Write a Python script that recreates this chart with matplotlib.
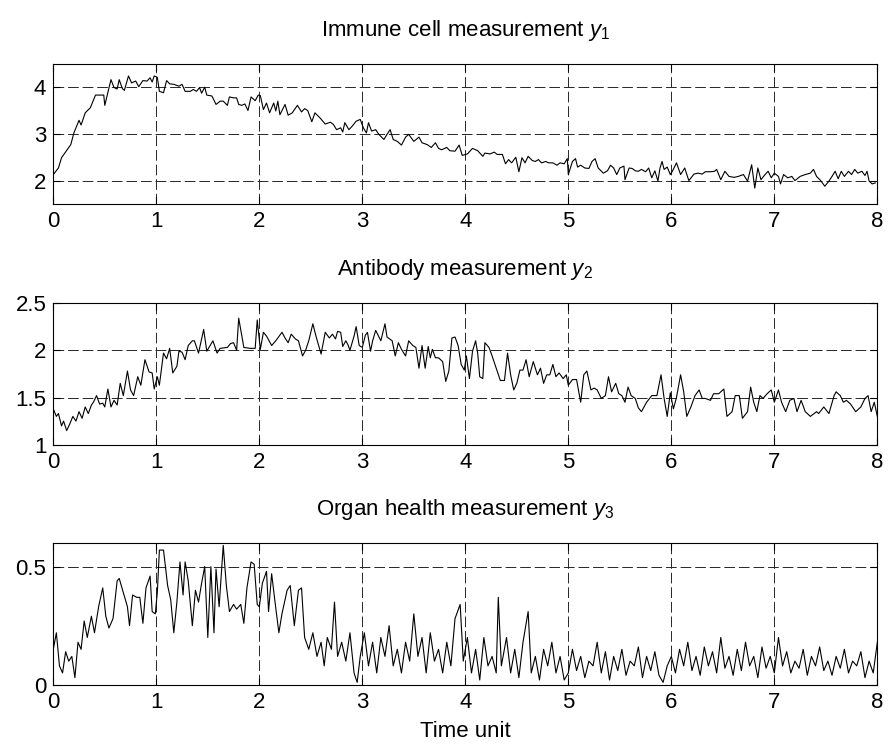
import matplotlib
matplotlib.use('Agg')
import matplotlib.pyplot as plt

t1 = [0.00, 0.05, 0.08, 0.17, 0.20, 0.25, 0.27, 0.31, 0.36, 0.41, 0.49, 0.50, 0.56, 0.59, 0.62, 0.64,
      0.67, 0.69, 0.73, 0.76, 0.80, 0.83, 0.87, 0.91, 0.94, 0.96, 0.98, 1.01, 1.03, 1.07, 1.10, 1.13,
      1.17, 1.22, 1.25, 1.28, 1.33, 1.36, 1.39, 1.42, 1.44, 1.47, 1.49, 1.54, 1.58, 1.62, 1.65, 1.69,
      1.71, 1.75, 1.78, 1.80, 1.83, 1.86, 1.89, 1.92, 1.96, 1.99, 2.01, 2.04, 2.07, 2.10, 2.14, 2.16,
      2.18, 2.20, 2.25, 2.28, 2.32, 2.37, 2.41, 2.44, 2.47, 2.51, 2.54, 2.59, 2.64, 2.69, 2.72, 2.75,
      2.79, 2.81, 2.83, 2.87, 2.90, 2.94, 2.98, 3.01, 3.04, 3.06, 3.09, 3.13, 3.16, 3.21, 3.24, 3.27,
      3.30, 3.34, 3.38, 3.42, 3.45, 3.50, 3.55, 3.58, 3.63, 3.67, 3.71, 3.74, 3.77, 3.82, 3.85, 3.90,
      3.94, 3.97, 4.02, 4.07, 4.12, 4.17, 4.19, 4.24, 4.28, 4.31, 4.36, 4.39, 4.42, 4.45, 4.49, 4.52,
      4.55, 4.58, 4.61, 4.65, 4.68, 4.71, 4.74, 4.78, 4.81, 4.85, 4.89, 4.92, 4.96, 4.99, 5.00, 5.04,
      5.07, 5.09, 5.12, 5.16, 5.20, 5.23, 5.26, 5.29, 5.34, 5.38, 5.41, 5.44, 5.47, 5.50, 5.54, 5.55,
      5.59, 5.62, 5.65, 5.68, 5.71, 5.75, 5.78, 5.81, 5.84, 5.87, 5.89, 5.91, 5.93, 5.96, 5.99, 6.01,
      6.05, 6.09, 6.13, 6.17, 6.22, 6.26, 6.30, 6.33, 6.38, 6.42, 6.44, 6.48, 6.52, 6.56, 6.61, 6.65,
      6.70, 6.74, 6.78, 6.81, 6.84, 6.87, 6.91, 6.94, 6.97, 7.00, 7.04, 7.06, 7.09, 7.13, 7.17, 7.20,
      7.25, 7.30, 7.35, 7.38, 7.41, 7.45, 7.49, 7.53, 7.56, 7.59, 7.62, 7.65, 7.68, 7.72, 7.75, 7.78,
      7.81, 7.85, 7.88, 7.90, 7.92, 7.95, 7.98]
y1 = [2.13, 2.27, 2.49, 2.77, 3.02, 3.29, 3.19, 3.45, 3.56, 3.83, 3.83, 3.61, 4.16, 3.99, 3.96, 4.16,
      3.97, 3.93, 4.24, 4.09, 4.13, 4.01, 4.14, 4.13, 4.20, 4.11, 4.24, 4.21, 3.91, 3.88, 4.14, 4.07,
      4.06, 4.02, 4.06, 3.91, 3.91, 3.95, 3.91, 3.99, 3.87, 4.00, 3.83, 3.81, 3.63, 3.70, 3.70, 3.61,
      3.79, 3.77, 3.77, 3.63, 3.61, 3.64, 3.50, 3.79, 3.71, 3.83, 3.82, 3.52, 3.66, 3.45, 3.66, 3.49,
      3.70, 3.41, 3.63, 3.40, 3.45, 3.61, 3.47, 3.54, 3.50, 3.26, 3.45, 3.34, 3.21, 3.25, 3.20, 3.09,
      3.13, 3.04, 3.24, 3.09, 3.16, 3.27, 3.31, 3.13, 3.02, 3.24, 3.06, 3.09, 2.99, 2.88, 2.99, 3.09,
      2.88, 2.84, 2.76, 2.93, 2.99, 2.84, 2.93, 2.81, 2.77, 2.71, 2.81, 2.69, 2.66, 2.71, 2.64, 2.63,
      2.76, 2.54, 2.57, 2.69, 2.64, 2.52, 2.59, 2.57, 2.61, 2.56, 2.56, 2.36, 2.45, 2.38, 2.50, 2.19,
      2.49, 2.38, 2.52, 2.43, 2.41, 2.45, 2.38, 2.41, 2.38, 2.38, 2.33, 2.38, 2.36, 2.47, 2.13, 2.41,
      2.47, 2.29, 2.33, 2.27, 2.26, 2.41, 2.47, 2.27, 2.16, 2.21, 2.33, 2.27, 2.13, 2.27, 2.31, 2.02,
      2.27, 2.26, 2.21, 2.20, 2.24, 2.19, 2.27, 2.06, 2.21, 1.99, 2.27, 2.41, 2.24, 2.29, 2.13, 2.20,
      2.38, 2.13, 2.27, 2.00, 2.14, 2.16, 2.14, 2.19, 2.19, 2.20, 2.24, 2.02, 2.20, 2.09, 2.07, 2.09,
      2.13, 1.99, 2.34, 1.84, 2.27, 2.02, 2.13, 2.20, 2.06, 2.16, 2.09, 1.93, 2.13, 2.06, 2.09, 2.00,
      2.09, 2.13, 2.16, 2.24, 2.09, 2.00, 1.88, 1.99, 2.09, 2.20, 2.04, 2.20, 2.09, 2.20, 2.13, 2.24,
      2.16, 2.20, 2.11, 2.20, 1.99, 1.93, 1.95]

# Antibody measurement y2
t2 = [0.00, 0.03, 0.05, 0.08, 0.10, 0.13, 0.16, 0.19, 0.22, 0.25, 0.28, 0.31, 0.34, 0.37, 0.39, 0.42,
      0.45, 0.48, 0.50, 0.53, 0.56, 0.59, 0.62, 0.65, 0.68, 0.72, 0.75, 0.78, 0.82, 0.85, 0.89, 0.93,
      0.96, 0.98, 1.01, 1.03, 1.07, 1.10, 1.13, 1.16, 1.20, 1.22, 1.25, 1.28, 1.31, 1.35, 1.37, 1.41,
      1.46, 1.49, 1.55, 1.59, 1.62, 1.69, 1.72, 1.75, 1.78, 1.80, 1.85, 1.91, 1.96, 1.98, 2.01, 2.04,
      2.07, 2.12, 2.16, 2.22, 2.25, 2.28, 2.31, 2.35, 2.38, 2.42, 2.45, 2.48, 2.52, 2.55, 2.60, 2.64,
      2.68, 2.71, 2.74, 2.76, 2.79, 2.81, 2.84, 2.86, 2.88, 2.92, 2.94, 2.97, 3.00, 3.03, 3.05, 3.08,
      3.10, 3.13, 3.18, 3.22, 3.24, 3.29, 3.32, 3.35, 3.38, 3.42, 3.45, 3.49, 3.52, 3.55, 3.58, 3.61,
      3.64, 3.66, 3.68, 3.71, 3.74, 3.78, 3.81, 3.84, 3.87, 3.90, 3.93, 3.96, 3.99, 4.01, 4.04, 4.07,
      4.10, 4.12, 4.14, 4.17, 4.19, 4.23, 4.26, 4.30, 4.34, 4.38, 4.41, 4.44, 4.47, 4.50, 4.53, 4.56,
      4.59, 4.62, 4.66, 4.70, 4.73, 4.76, 4.79, 4.82, 4.85, 4.88, 4.91, 4.95, 4.98, 5.00, 5.04, 5.08,
      5.12, 5.15, 5.18, 5.22, 5.25, 5.28, 5.32, 5.36, 5.39, 5.42, 5.46, 5.49, 5.52, 5.55, 5.58, 5.61,
      5.65, 5.68, 5.71, 5.76, 5.81, 5.86, 5.90, 5.93, 5.96, 5.99, 6.02, 6.05, 6.09, 6.12, 6.15, 6.19,
      6.23, 6.27, 6.30, 6.33, 6.38, 6.41, 6.46, 6.51, 6.54, 6.59, 6.62, 6.66, 6.69, 6.74, 6.77, 6.80,
      6.83, 6.86, 6.89, 6.93, 6.97, 7.00, 7.04, 7.07, 7.11, 7.15, 7.19, 7.22, 7.26, 7.30, 7.35, 7.41,
      7.43, 7.48, 7.53, 7.58, 7.60, 7.64, 7.67, 7.70, 7.74, 7.79, 7.84, 7.88, 7.91, 7.94, 7.97, 8.00]
y2 = [1.38, 1.30, 1.33, 1.20, 1.25, 1.15, 1.22, 1.30, 1.25, 1.35, 1.28, 1.40, 1.33, 1.42, 1.45, 1.52,
      1.43, 1.44, 1.40, 1.59, 1.40, 1.47, 1.42, 1.65, 1.52, 1.78, 1.58, 1.52, 1.72, 1.63, 1.90, 1.77,
      1.76, 1.59, 1.72, 1.63, 1.97, 1.91, 2.02, 1.76, 1.83, 1.99, 1.98, 1.90, 2.05, 2.10, 2.10, 1.97,
      2.22, 1.99, 2.10, 1.97, 2.02, 2.03, 2.07, 2.08, 2.00, 2.34, 2.03, 2.02, 2.02, 2.32, 2.01, 2.19,
      2.15, 2.05, 2.10, 2.19, 2.13, 2.08, 2.17, 2.12, 2.10, 1.94, 2.00, 2.10, 2.28, 2.15, 1.96, 2.19,
      2.13, 2.17, 2.12, 2.20, 2.19, 2.04, 2.10, 2.06, 2.00, 2.15, 2.25, 2.05, 2.03, 2.16, 2.19, 1.99,
      2.10, 2.21, 2.10, 2.28, 2.14, 2.10, 1.94, 2.08, 2.01, 1.94, 2.10, 2.05, 2.03, 1.81, 2.05, 1.81,
      2.04, 1.92, 2.01, 1.92, 1.92, 1.88, 1.67, 1.78, 2.13, 2.14, 2.05, 1.85, 1.79, 1.94, 1.70, 1.99,
      2.10, 1.97, 1.72, 1.70, 2.08, 2.03, 1.94, 1.81, 1.68, 1.68, 1.97, 1.74, 1.58, 1.65, 1.79, 1.79,
      1.90, 1.72, 1.88, 1.74, 1.81, 1.65, 1.74, 1.74, 1.85, 1.72, 1.76, 1.70, 1.74, 1.63, 1.69, 1.69,
      1.45, 1.74, 1.78, 1.58, 1.60, 1.58, 1.49, 1.52, 1.72, 1.56, 1.65, 1.54, 1.52, 1.45, 1.61, 1.52,
      1.49, 1.39, 1.35, 1.45, 1.52, 1.52, 1.74, 1.49, 1.30, 1.55, 1.38, 1.50, 1.74, 1.56, 1.30, 1.40,
      1.52, 1.58, 1.49, 1.49, 1.47, 1.54, 1.54, 1.59, 1.30, 1.35, 1.52, 1.52, 1.28, 1.35, 1.61, 1.45,
      1.35, 1.52, 1.49, 1.54, 1.58, 1.45, 1.58, 1.45, 1.35, 1.47, 1.49, 1.35, 1.47, 1.35, 1.30, 1.35,
      1.33, 1.40, 1.33, 1.52, 1.56, 1.52, 1.45, 1.47, 1.43, 1.35, 1.40, 1.49, 1.52, 1.35, 1.45, 1.30]

# Organ health measurement y3
t3 = [0.00, 0.03, 0.06, 0.09, 0.12, 0.15, 0.18, 0.21, 0.24, 0.27, 0.30, 0.33, 0.37, 0.40, 0.44, 0.48,
      0.51, 0.54, 0.58, 0.62, 0.64, 0.68, 0.72, 0.74, 0.77, 0.81, 0.84, 0.87, 0.90, 0.94, 0.96, 0.99,
      1.01, 1.03, 1.07, 1.11, 1.14, 1.17, 1.20, 1.23, 1.26, 1.28, 1.31, 1.35, 1.38, 1.41, 1.44, 1.47,
      1.50, 1.53, 1.56, 1.58, 1.61, 1.65, 1.68, 1.71, 1.75, 1.78, 1.82, 1.85, 1.88, 1.92, 1.95, 1.98,
      2.00, 2.03, 2.07, 2.09, 2.12, 2.15, 2.19, 2.22, 2.27, 2.30, 2.34, 2.38, 2.41, 2.44, 2.48, 2.52,
      2.56, 2.60, 2.63, 2.66, 2.70, 2.73, 2.76, 2.80, 2.84, 2.88, 2.92, 2.95, 2.98, 3.02, 3.06, 3.10,
      3.14, 3.18, 3.22, 3.26, 3.30, 3.34, 3.38, 3.42, 3.46, 3.50, 3.54, 3.58, 3.62, 3.66, 3.70, 3.74,
      3.78, 3.82, 3.86, 3.90, 3.95, 3.98, 4.02, 4.06, 4.10, 4.14, 4.18, 4.22, 4.26, 4.30, 4.32, 4.35,
      4.40, 4.44, 4.48, 4.52, 4.56, 4.61, 4.64, 4.68, 4.72, 4.76, 4.80, 4.84, 4.88, 4.92, 4.96, 5.00,
      5.04, 5.08, 5.12, 5.16, 5.20, 5.24, 5.28, 5.32, 5.36, 5.40, 5.44, 5.48, 5.52, 5.56, 5.60, 5.64,
      5.68, 5.72, 5.76, 5.80, 5.84, 5.88, 5.92, 5.96, 6.00, 6.04, 6.08, 6.12, 6.16, 6.20, 6.24, 6.28,
      6.32, 6.36, 6.40, 6.44, 6.48, 6.52, 6.56, 6.60, 6.64, 6.68, 6.72, 6.76, 6.80, 6.84, 6.88, 6.92,
      6.96, 7.00, 7.04, 7.08, 7.12, 7.16, 7.20, 7.24, 7.28, 7.32, 7.36, 7.40, 7.44, 7.48, 7.52, 7.56,
      7.60, 7.64, 7.68, 7.72, 7.76, 7.80, 7.84, 7.88, 7.92, 7.96, 8.00]
y3 = [0.15, 0.22, 0.08, 0.05, 0.14, 0.10, 0.12, 0.03, 0.18, 0.15, 0.27, 0.20, 0.29, 0.22, 0.33, 0.41,
      0.29, 0.24, 0.28, 0.44, 0.45, 0.39, 0.33, 0.25, 0.38, 0.37, 0.37, 0.26, 0.41, 0.46, 0.31, 0.30,
      0.39, 0.57, 0.57, 0.42, 0.36, 0.22, 0.35, 0.52, 0.38, 0.52, 0.44, 0.25, 0.40, 0.35, 0.43, 0.50,
      0.20, 0.50, 0.22, 0.49, 0.33, 0.59, 0.42, 0.31, 0.34, 0.32, 0.34, 0.26, 0.41, 0.52, 0.51, 0.34,
      0.33, 0.43, 0.48, 0.31, 0.47, 0.36, 0.22, 0.30, 0.40, 0.42, 0.25, 0.40, 0.41, 0.20, 0.15, 0.22,
      0.12, 0.18, 0.08, 0.20, 0.15, 0.35, 0.12, 0.18, 0.10, 0.22, 0.05, 0.01, 0.12, 0.22, 0.08, 0.18,
      0.05, 0.20, 0.12, 0.25, 0.08, 0.15, 0.05, 0.18, 0.10, 0.30, 0.12, 0.20, 0.05, 0.22, 0.10, 0.15,
      0.05, 0.18, 0.08, 0.28, 0.34, 0.10, 0.20, 0.05, 0.15, 0.02, 0.20, 0.08, 0.12, 0.05, 0.37, 0.08,
      0.20, 0.05, 0.15, 0.03, 0.18, 0.31, 0.05, 0.12, 0.02, 0.15, 0.08, 0.18, 0.05, 0.12, 0.02, 0.05,
      0.15, 0.06, 0.12, 0.03, 0.10, 0.08, 0.18, 0.05, 0.14, 0.02, 0.12, 0.06, 0.15, 0.04, 0.10, 0.08,
      0.16, 0.03, 0.12, 0.06, 0.14, 0.04, 0.01, 0.08, 0.12, 0.05, 0.15, 0.08, 0.18, 0.06, 0.12, 0.04,
      0.16, 0.08, 0.14, 0.05, 0.20, 0.07, 0.12, 0.04, 0.15, 0.06, 0.18, 0.08, 0.12, 0.03, 0.16, 0.07,
      0.12, 0.05, 0.20, 0.08, 0.14, 0.05, 0.10, 0.07, 0.15, 0.04, 0.12, 0.08, 0.16, 0.06, 0.10, 0.04,
      0.12, 0.07, 0.15, 0.05, 0.10, 0.08, 0.14, 0.03, 0.10, 0.05, 0.18]

titles = ['Immune cell measurement $y_{\\mathit{1}}$',
          'Antibody measurement $y_{\\mathit{2}}$',
          'Organ health measurement $y_{\\mathit{3}}$']
ylims = [(1.5, 4.5), (1, 2.5), (0, 0.6)]
yticks = [[2, 3, 4], [1, 1.5, 2, 2.5], [0, 0.5]]
ytick_labels = [['2', '3', '4'], ['1', '1.5', '2', '2.5'], ['0', '0.5']]
xticks = [0, 1, 2, 3, 4, 5, 6, 7, 8]

# Arial-like look, MATLAB style
plt.rcParams['font.family'] = ['Liberation Sans', 'DejaVu Sans']
plt.rcParams['mathtext.fontset'] = 'custom'
plt.rcParams['mathtext.rm'] = 'Liberation Sans'
plt.rcParams['mathtext.it'] = 'Liberation Sans:italic'
plt.rcParams['font.size'] = 16

fig = plt.figure(figsize=(8.88, 7.5), dpi=100)
boxes = [[0.060, 0.728, 0.928, 0.187],
         [0.060, 0.407, 0.928, 0.189],
         [0.060, 0.087, 0.928, 0.189]]

data = [(t1, y1), (t2, y2), (t3, y3)]
for i in range(3):
    ax = fig.add_axes(boxes[i])
    t, y = data[i]
    ax.plot(t, y, color='black', linewidth=0.8)
    ax.set_xlim(0, 8)
    ax.set_ylim(*ylims[i])
    ax.set_xticks(xticks)
    ax.set_yticks(yticks[i])
    ax.set_yticklabels(ytick_labels[i])
    ax.grid(True, color='0.15', linestyle=(0, (11, 4)), linewidth=0.7)
    ax.tick_params(direction='in', length=5, width=0.8, top=True, right=True, pad=5, labelsize=16)
    for s in ax.spines.values():
        s.set_linewidth(0.8)
    ax.set_title(titles[i], fontsize=16, pad=20)

ax.set_xlabel('Time unit', fontsize=16, labelpad=6)

plt.savefig('out.png', dpi=100)
